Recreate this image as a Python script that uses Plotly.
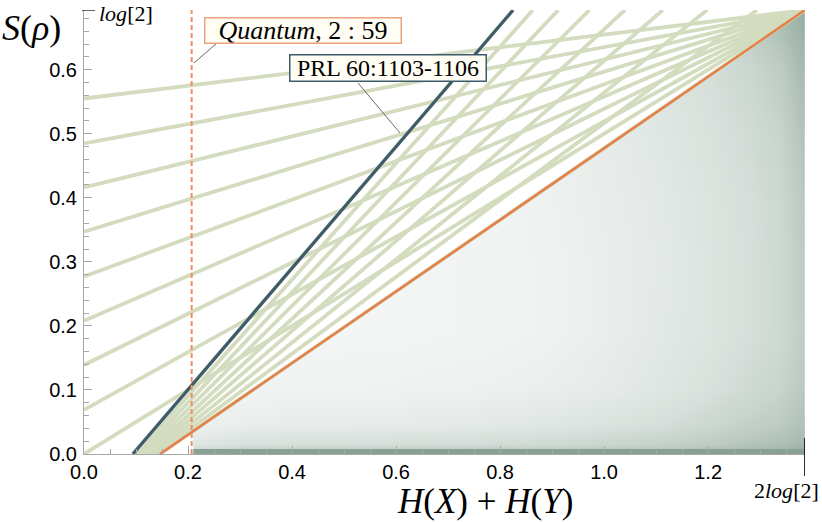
import math
import plotly.graph_objects as go

LOG2 = math.log(2)
TWO_LOG2 = 2 * math.log(2)

# ---- data ----
# family A: lines from (0, y0) to the corner (2log2, log2)
FAN_A_Y0 = [0.0, 0.069, 0.139, 0.208, 0.277, 0.347, 0.416, 0.485, 0.555]
# family B: lines from (x0, 0) to (x1, log2)
FAN_B_X0 = [0.094, 0.1005, 0.107, 0.1135, 0.120, 0.1265, 0.133, 0.1395, 0.146]
FAN_B_X1 = [0.825, 0.863, 0.912, 0.972, 1.040, 1.113, 1.198, 1.294, 1.386]

BLUE_X = [0.094, 0.825]
BLUE_Y = [0.0, 0.6931]
ORANGE_X = [0.146, 1.3863]
ORANGE_Y = [0.0, 0.6931]
DASHED_X = 0.207

# scatter cloud: dense strip along S=0, and estimated local density (0..1) elsewhere
CLOUD_X_MIN = 0.21
BAND_X = [0.21, 1.3863]
BAND_Y = [0.0, 0.0]
DENS_X = [0.21, 0.30, 0.40, 0.50, 0.60, 0.70, 0.80, 0.90, 1.00, 1.10, 1.20, 1.28, 1.34, 1.3863]
DENS_Y = [0.0, 0.015, 0.045, 0.10, 0.19, 0.30, 0.40, 0.50, 0.60, 0.6931]
DENS_Z = [
    [0.50, 0.58, 0.60, 0.60, 0.62, 0.62, 0.64, 0.66, 0.68, 0.70, 0.74, 0.80, 0.85, 0.90],
    [0.26, 0.32, 0.34, 0.34, 0.36, 0.36, 0.38, 0.40, 0.44, 0.48, 0.54, 0.62, 0.68, 0.76],
    [0.14, 0.18, 0.20, 0.20, 0.21, 0.22, 0.24, 0.26, 0.30, 0.34, 0.42, 0.50, 0.56, 0.66],
    [0.10, 0.12, 0.13, 0.13, 0.14, 0.15, 0.16, 0.18, 0.21, 0.26, 0.32, 0.40, 0.46, 0.58],
    [0.08, 0.09, 0.10, 0.10, 0.10, 0.11, 0.12, 0.14, 0.18, 0.23, 0.28, 0.34, 0.40, 0.54],
    [0.08, 0.09, 0.10, 0.10, 0.10, 0.11, 0.12, 0.14, 0.18, 0.22, 0.28, 0.34, 0.40, 0.56],
    [0.08, 0.09, 0.10, 0.10, 0.10, 0.11, 0.12, 0.15, 0.19, 0.23, 0.29, 0.35, 0.42, 0.58],
    [0.08, 0.09, 0.10, 0.10, 0.10, 0.11, 0.13, 0.16, 0.20, 0.25, 0.31, 0.38, 0.46, 0.64],
    [0.08, 0.09, 0.10, 0.10, 0.10, 0.11, 0.14, 0.18, 0.23, 0.28, 0.34, 0.43, 0.54, 0.74],
    [0.08, 0.09, 0.10, 0.10, 0.10, 0.11, 0.14, 0.20, 0.26, 0.32, 0.43, 0.56, 0.72, 0.88],
]

X_TICK_STEP = 0.2
Y_TICK_STEP = 0.1

# ---- styling ----
GREEN = "#d3dcbf"
BLUE = "#3d5b6b"
ORANGE = "#e5804a"
DASH_ORANGE = "#e8915e"
CLOUD = "#87a193"
AXIS_GRAY = "#a8a8a8"
SERIF = "Liberation Serif"
SANS = "Liberation Sans"

L, R, T, B = 84, 17, 10, 68
W, H = 822, 522
PW, PH = W - L - R, H - T - B


def px(xp):
    return (xp - L) / PW


def py(yp):
    return (H - B - yp) / PH


fig = go.Figure()

# density cloud
fig.add_trace(go.Heatmap(
    x=DENS_X, y=DENS_Y, z=DENS_Z,
    zmin=0, zmax=1, zsmooth="best",
    colorscale=[[0, "#ffffff"], [1, CLOUD]],
    showscale=False, hoverinfo="skip",
))
fig.add_trace(go.Scatter(x=BAND_X, y=BAND_Y, mode="lines",
                         line=dict(color=CLOUD, width=10),
                         hoverinfo="skip", showlegend=False))

# white masks: above the orange bound, and left of where the cloud begins
fig.add_trace(go.Scatter(
    x=[ORANGE_X[0], ORANGE_X[1], 0, 0, ORANGE_X[0]],
    y=[ORANGE_Y[0], ORANGE_Y[1], ORANGE_Y[1], 0, ORANGE_Y[0]],
    mode="lines", fill="toself", fillcolor="white",
    line=dict(width=0, color="white"), hoverinfo="skip", showlegend=False,
))
fig.add_trace(go.Scatter(
    x=[-0.01, CLOUD_X_MIN, CLOUD_X_MIN, -0.01, -0.01],
    y=[-0.01, -0.01, LOG2, LOG2, -0.01],
    mode="lines", fill="toself", fillcolor="white",
    line=dict(width=0, color="white"), hoverinfo="skip", showlegend=False,
))

# green fans
gx, gy = [], []
for y0 in FAN_A_Y0:
    gx += [0, TWO_LOG2, None]
    gy += [y0, LOG2, None]
for x0, x1 in zip(FAN_B_X0, FAN_B_X1):
    gx += [x0, x1, None]
    gy += [0, LOG2, None]
fig.add_trace(go.Scatter(x=gx, y=gy, mode="lines",
                         line=dict(color=GREEN, width=3.8),
                         hoverinfo="skip", showlegend=False))

fig.add_trace(go.Scatter(x=BLUE_X, y=BLUE_Y, mode="lines",
                         line=dict(color=BLUE, width=3.2),
                         hoverinfo="skip", showlegend=False))
fig.add_trace(go.Scatter(x=ORANGE_X, y=ORANGE_Y, mode="lines",
                         line=dict(color=ORANGE, width=2.6),
                         hoverinfo="skip", showlegend=False))
fig.add_trace(go.Scatter(x=[DASHED_X, DASHED_X], y=[0, LOG2], mode="lines",
                         line=dict(color=DASH_ORANGE, width=2, dash="5px,3px"),
                         hoverinfo="skip", showlegend=False))

axis_common = dict(
    showgrid=False, zeroline=False, showline=True, linecolor=AXIS_GRAY, linewidth=1,
    ticks="inside", ticklen=8, tickcolor=AXIS_GRAY, tickwidth=1,
    tickfont=dict(family=SANS, size=20, color="black"),
    tickformat=".1f",
)

fig.update_layout(
    width=W, height=H,
    margin=dict(l=L, r=R, t=T, b=B),
    plot_bgcolor="white", paper_bgcolor="white",
    showlegend=False,
    xaxis=dict(range=[0, TWO_LOG2], tick0=0, dtick=X_TICK_STEP,
               minor=dict(ticks="inside", ticklen=5, tickcolor=AXIS_GRAY, tick0=0, dtick=0.05),
               ticklabelstandoff=0, **axis_common),
    yaxis=dict(range=[0, LOG2], tick0=0, dtick=Y_TICK_STEP,
               minor=dict(ticks="inside", ticklen=5, tickcolor=AXIS_GRAY, tick0=0, dtick=0.02),
               ticklabelstandoff=2, **axis_common),
)

shapes = [
    # special ticks
    dict(type="line", xref="paper", yref="y", x0=px(82), x1=px(95), y0=LOG2, y1=LOG2,
         line=dict(color="black", width=1.2)),
    dict(type="line", xref="x", yref="paper", x0=TWO_LOG2, x1=TWO_LOG2, y0=py(476), y1=py(438),
         line=dict(color="black", width=1.6)),
    # callout pointers
    dict(type="line", xref="paper", yref="paper", x0=px(194), y0=py(63), x1=px(224), y1=py(37),
         line=dict(color="#6a6a6a", width=1)),
    dict(type="line", xref="paper", yref="paper", x0=px(358), y0=py(83), x1=px(400), y1=py(133),
         line=dict(color="#6a6a6a", width=1)),
]
fig.update_layout(shapes=shapes)

annotations = [
    dict(text="<i>S</i>(<i>ρ</i>)", xref="paper", yref="paper", x=px(31), y=py(28),
         xanchor="center", yanchor="middle", showarrow=False,
         font=dict(family=SERIF, size=36, color="black")),
    dict(text="<i>H</i>(<i>X</i>) + <i>H</i>(<i>Y</i>)", xref="paper", yref="paper",
         x=px(395), y=py(501.5), xanchor="left", yanchor="middle", showarrow=False,
         font=dict(family=SERIF, size=35, color="black")),
    dict(text="<i>log</i>[2]", xref="paper", yref="paper", x=px(97), y=py(13),
         xanchor="left", yanchor="middle", showarrow=False,
         font=dict(family=SERIF, size=22, color="black")),
    dict(text="2<i>log</i>[2]", xref="paper", yref="paper", x=px(786), y=py(490),
         xanchor="center", yanchor="middle", showarrow=False,
         font=dict(family=SERIF, size=22, color="black")),
    dict(text="<i>Quantum</i>,&nbsp;2&nbsp;:&nbsp;59", xref="paper", yref="paper",
         x=px(303), y=py(30.5), xanchor="center", yanchor="middle", showarrow=False,
         width=195, height=24, align="center",
         font=dict(family=SERIF, size=26, color="black"),
         bgcolor="#fffdf4", bordercolor="#e9a37e", borderwidth=1.5, borderpad=0),
    dict(text="PRL 60:1103-1106", xref="paper", yref="paper",
         x=px(388), y=py(68), xanchor="center", yanchor="middle", showarrow=False,
         width=195, height=25, align="center",
         font=dict(family=SERIF, size=24, color="black"),
         bgcolor="#fffdf4", bordercolor=BLUE, borderwidth=1.5, borderpad=0),
]
fig.update_layout(annotations=annotations)

fig.write_html("out.html", config={"displayModeBar": False},
               post_script="document.body.style.margin='0px';")
